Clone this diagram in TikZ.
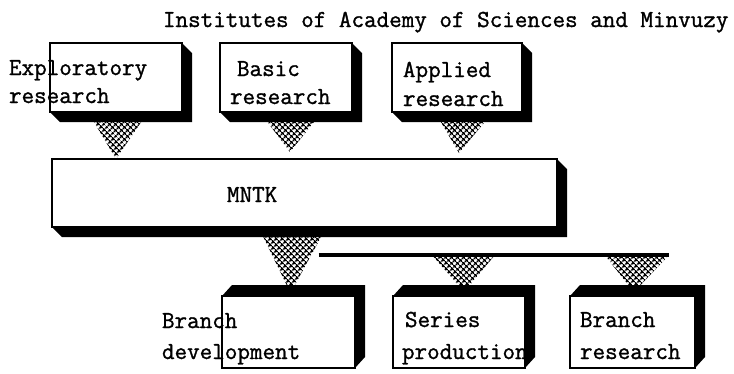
\documentclass[tikz,border=0pt]{standalone}
\usepackage{fontspec}
\newfontfamily\reffont{Latin Modern Mono}[FakeBold=1.2]
\usetikzlibrary{patterns.meta,calc}
\newcommand{\shDR}[1]{\fill[black] (#1.north east) -- ++(10,10) -- ([shift={(10,10)}]#1.south east) -- ([shift={(10,10)}]#1.south west) -- (#1.south west) -- (#1.south east) -- cycle;}
\newcommand{\shUR}[1]{\fill[black] (#1.south east) -- ++(10,-11) -- ([shift={(10,-11)}]#1.north east) -- ([shift={(10,-11)}]#1.north west) -- (#1.north west) -- (#1.north east) -- cycle;}
\tikzset{
  lbl/.style={font=\reffont\fontsize{24.4}{24}\selectfont, anchor=base west, inner sep=0pt, outer sep=0pt},
  frontbox/.style={draw=black, line width=1.6pt, inner sep=0pt, outer sep=0pt},
  hatchtri/.style={pattern={Hatch[angle=45,distance=4pt,line width=1.4pt]}, pattern color=black},
}
\begin{document}
\begin{tikzpicture}[x=1pt,y=-1pt]
\useasboundingbox (0,0) rectangle (734,373);
% texts
\node[lbl] (title) at (163,27) {Institutes of Academy of Sciences and Minvuzy};
\node[lbl] (t1a) at (9,75) {Exploratory};
\node[lbl] (t1b) at (9,103) {research};
\node[lbl] (t2a) at (237,76) {Basic};
\node[lbl] (t2b) at (230,104) {research};
\node[lbl] (t3a) at (403,77) {Applied};
\node[lbl] (t3b) at (403,106) {research};
\node[lbl] (tm) at (227,202) {MNTK};
\node[lbl] (t4a) at (162,328) {Branch};
\node[lbl] (t4b) at (162,359) {development};
\node[lbl] (t5a) at (405,327) {Series};
\node[lbl] (t5b) at (402,359) {production};
\node[lbl] (t6a) at (580,327) {Branch};
\node[lbl] (t6b) at (580,359) {research};
% boxes
\node[frontbox, minimum width=132pt, minimum height=69pt] (expl) at (116,77.5) {};
\node[frontbox, minimum width=132pt, minimum height=69pt] (basic) at (286,77.5) {};
\node[frontbox, minimum width=130pt, minimum height=69pt] (appl) at (457,77.5) {};
\node[frontbox, minimum width=505pt, minimum height=68pt] (mntk) at (304.5,193) {};
\node[frontbox, minimum width=133pt, minimum height=72pt] (bdev) at (288.5,332) {};
\node[frontbox, minimum width=132pt, minimum height=72pt] (ser) at (459,332) {};
\node[frontbox, minimum width=125pt, minimum height=72pt] (bres) at (632.5,332) {};
\shDR{expl}
\shDR{basic}
\shDR{appl}
\shDR{mntk}
\shUR{bdev}
\shUR{ser}
\shUR{bres}
% connectors (hatched triangles)
\fill[hatchtri] ($(expl.south)+(-28,0)$) -- ($(expl.south)+(32,0)$) -- (expl.south |- mntk.north) -- cycle;
\fill[hatchtri] ($(basic.south)+(-26,0)$) -- ($(basic.south)+(36,0)$) -- ($(basic.south |- mntk.north)+(4,-7)$) -- cycle;
\fill[hatchtri] ($(appl.south)+(-22,0)$) -- ($(appl.south)+(36,0)$) -- ($(appl.south |- mntk.north)+(2,-6)$) -- cycle;
\fill[hatchtri] ($(mntk.south)+(-46,0)$) -- ($(mntk.south)+(22,0)$) -- ($(bdev.north)+(2,-3)$) -- cycle;
\coordinate (busL) at ($(mntk.south)+(14,28)$);
\coordinate (busR) at (669,255);
\fill[hatchtri] ($(ser.north |- busR)+(-27,0)$) -- ($(ser.north |- busR)+(36,0)$) -- ($(ser.north)+(5,-4)$) -- cycle;
\fill[hatchtri] ($(bres.north |- busR)+(-28,0)$) -- (busR) -- ($(bres.north)+(1.5,-4)$) -- cycle;
\draw[line width=4pt] (busL) -- (busR);
\end{tikzpicture}
\end{document}
